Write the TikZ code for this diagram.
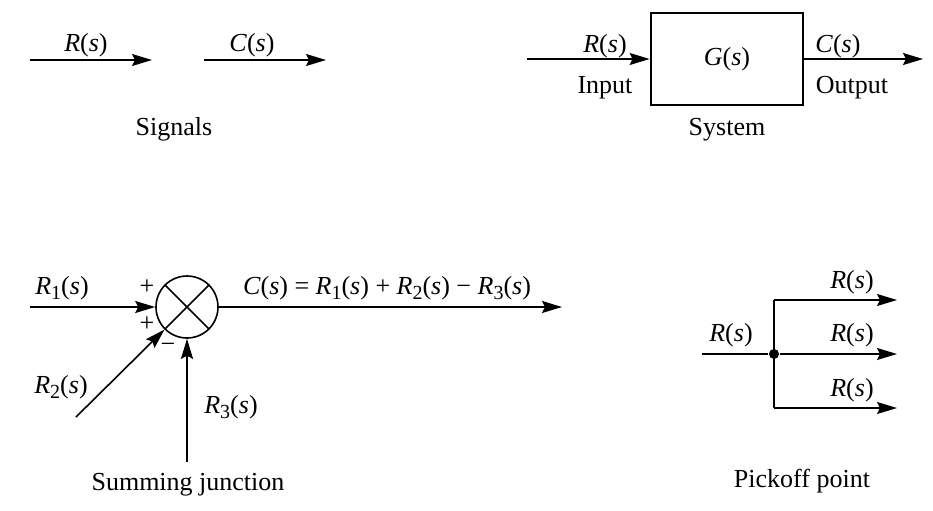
\documentclass[tikz,border=0pt]{standalone}
\usepackage{fontspec}
\setmainfont{Liberation Serif}
\usetikzlibrary{arrows.meta, positioning}
\newcommand{\sig}[2]{\textit{#1}\raisebox{-0.45ex}{\fontsize{10}{12}\selectfont #2}(\textit{s})}

\begin{document}
\begin{tikzpicture}[x=0.5pt, y=-0.5pt, thick,
  >={Stealth[length=10pt, width=6pt, inset=1.5pt]},
  lbl/.style  = {font=\fontsize{13}{15}\selectfont, inner sep=0pt},
  captxt/.style = {font=\fontsize{13}{15}\selectfont, anchor=base, inner sep=0pt},
  blk/.style  = {draw, line width=1.4pt, minimum width=76pt,
                 minimum height=46pt, font=\fontsize{13}{15}\selectfont},
  sumj/.style = {draw, circle, minimum size=31pt, inner sep=0pt},
  dot/.style  = {circle, fill, minimum size=5pt, inner sep=0pt}
]
  \useasboundingbox (0,0) rectangle (933,510);

  %% Signals
  \coordinate (sr0) at (30,60);  \coordinate (sr1) at (152,60);
  \coordinate (sc0) at (204,60); \coordinate (sc1) at (326,60);
  \draw[->] (sr0) -- (sr1);
  \draw[->] (sc0) -- (sc1);
  \node[lbl] (lsr) at (86,45)  {\sig{R}{}};
  \node[lbl] (lsc) at (252,45) {\sig{C}{}};
  \node[captxt] (signals) at (174,135) {Signals};

  %% System block
  \node[blk] (G) at (727,59) {\sig{G}{}};
  \coordinate (gin) at (527,59); \coordinate (gout) at (923,59);
  \draw[->] (gin) -- (G.west);
  \draw[->] (G.east) -- (gout);
  \node[lbl] (lgin)  at (605,46) {\sig{R}{}};
  \node[captxt] (input) at (605,93) {Input};
  \node[lbl] (lgout) at (838,46) {\sig{C}{}};
  \node[captxt] (output) at (852,93) {Output};
  \node[captxt] (system) at (727,135) {System};

  %% Summing junction
  \node[sumj] (sum) at (187,307) {};
  \draw (sum.north west) -- (sum.south east)
        (sum.north east) -- (sum.south west);
  \coordinate (r1in) at (30,307);
  \coordinate (r2in) at (76,417);
  \coordinate (r3in) at (187,462);
  \coordinate (cout) at (562,307);
  \draw[->] (r1in) -- (sum.west);
  \draw[->] (r2in) -- (sum.225);
  \draw[->] (r3in) -- (sum.south);
  \draw[->] (sum.east) -- (cout);
  \node[lbl] (lr1) at (62,288)  {\sig{R}{1}};
  \node[lbl] (lr2) at (61,387)  {\sig{R}{2}};
  \node[lbl] (lr3) at (231,407) {\sig{R}{3}};
  \node[lbl] (lc)  at (387,288)
    {\sig{C}{} = \sig{R}{1} + \sig{R}{2} − \sig{R}{3}};
  \node[lbl] (pl1) at (147,287) {+};
  \node[lbl] (pl2) at (147,324) {+};
  \node[lbl] (mi3) at (168,348) {−};
  \node[captxt] (sumcap) at (188,490) {Summing junction};

  %% Pickoff point
  \node[dot] (pick) at (774,354) {};
  \coordinate (pin)  at (702,354);
  \coordinate (ptop) at (774,300); \coordinate (pbot) at (774,408);
  \coordinate (otop) at (897,300);
  \coordinate (omid) at (897,354);
  \coordinate (obot) at (897,408);
  \draw (pin) -- (pick);
  \draw (ptop) -- (pbot);
  \draw[->] (ptop) -- (otop);
  \draw[->] (pick) -- (omid);
  \draw[->] (pbot) -- (obot);
  \node[lbl] (lpin) at (731,335) {\sig{R}{}};
  \node[lbl] (lpt)  at (852,282) {\sig{R}{}};
  \node[lbl] (lpm)  at (852,335) {\sig{R}{}};
  \node[lbl] (lpb)  at (852,390) {\sig{R}{}};
  \node[captxt] (pickcap) at (802,487) {Pickoff point};
\end{tikzpicture}
\end{document}
